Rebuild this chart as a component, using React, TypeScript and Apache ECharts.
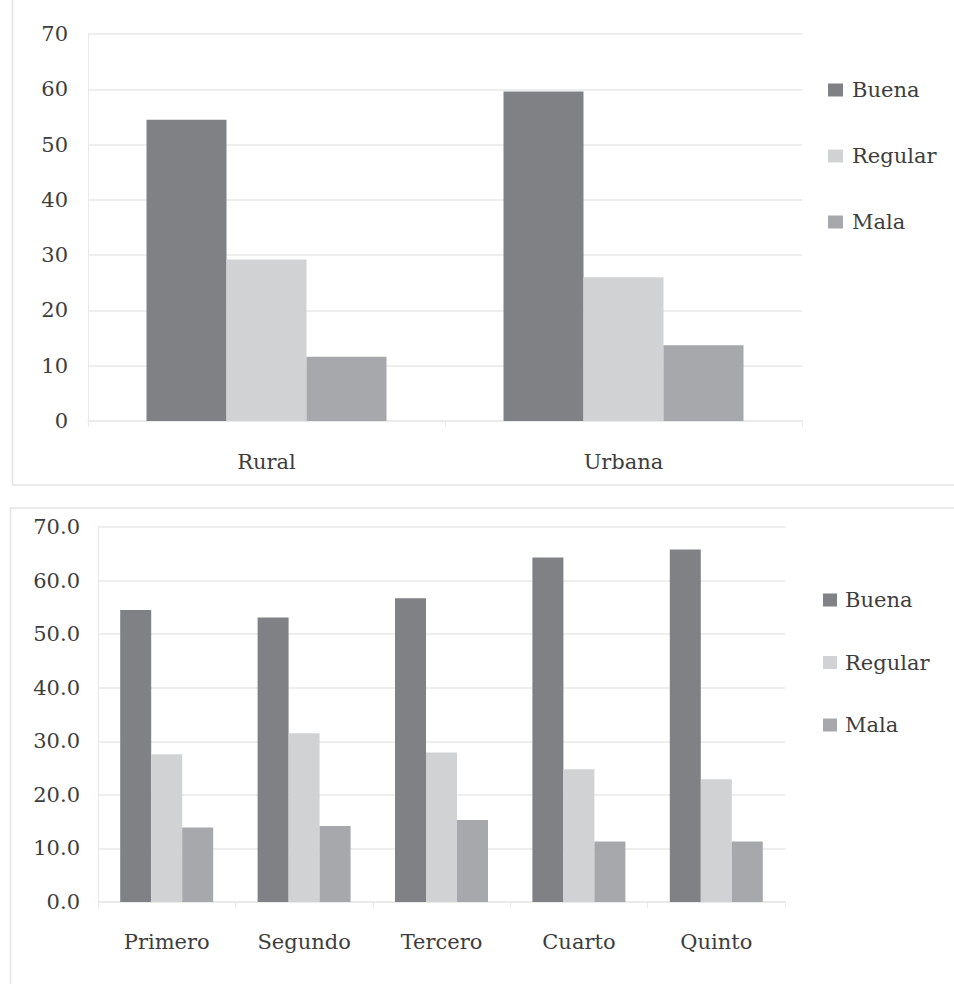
import React, { useEffect, useRef } from "react";
import * as echarts from "echarts";

const seriesNames = ["Buena", "Regular", "Mala"];
const colors = ["#808184", "#d1d2d4", "#a7a8ab"];

const topCategories = ["Rural", "Urbana"];
const topBuena = [54.5, 59.6];
const topRegular = [29.2, 26.0];
const topMala = [11.6, 13.7];
const topTicks = [0, 10, 20, 30, 40, 50, 60, 70];

const bottomCategories = ["Primero", "Segundo", "Tercero", "Cuarto", "Quinto"];
const bottomBuena = [54.5, 53.1, 56.7, 64.3, 65.8];
const bottomRegular = [27.6, 31.5, 27.9, 24.8, 22.9];
const bottomMala = [13.9, 14.2, 15.3, 11.3, 11.3];
const bottomTicks = [0, 10, 20, 30, 40, 50, 60, 70];

const FONT = "DejaVu Serif";
const TEXT = "#3d3d3d";
const GRID = "#e9e9e9";
const FS = 21;

export default function App() {
  const ref = useRef<HTMLDivElement>(null);
  useEffect(() => {
    if (!ref.current) return;
    const chart = echarts.init(ref.current, undefined, { renderer: "svg" });
    const topData = [topBuena, topRegular, topMala];
    const bottomData = [bottomBuena, bottomRegular, bottomMala];
    const yAxisCommon = (gridIndex: number, ticks: number[], fmt: (v: number) => string) => ({
      type: "value",
      gridIndex,
      min: ticks[0],
      max: ticks[ticks.length - 1],
      interval: ticks[1] - ticks[0],
      axisLine: { show: true, lineStyle: { color: GRID, width: 1 } },
      axisTick: { show: false },
      splitLine: { show: true, lineStyle: { color: GRID, width: 1.5 } },
      axisLabel: {
        color: TEXT,
        fontFamily: FONT,
        fontSize: FS,
        margin: gridIndex === 0 ? 20 : 18,
        formatter: (v: number) => fmt(v),
      },
    });
    const xAxisCommon = (gridIndex: number, cats: string[], margin: number) => ({
      type: "category",
      gridIndex,
      data: cats,
      axisLine: { show: true, lineStyle: { color: GRID, width: 1.5 } },
      axisTick: { show: true, length: 6, lineStyle: { color: GRID } },
      axisLabel: { color: TEXT, fontFamily: FONT, fontSize: FS, margin },
    });
    const option: any = {
      animation: false,
      backgroundColor: "#ffffff",
      textStyle: { fontFamily: FONT },
      graphic: [
        {
          type: "rect",
          shape: { x: 12.5, y: -2, width: 960, height: 487 },
          style: { fill: "none", stroke: "#e3e3e3", lineWidth: 1.5 },
          silent: true,
        },
        {
          type: "rect",
          shape: { x: 10.5, y: 508, width: 960, height: 500 },
          style: { fill: "none", stroke: "#e3e3e3", lineWidth: 1.5 },
          silent: true,
        },
      ],
      grid: [
        { left: 88, top: 34, width: 714, height: 387 },
        { left: 98, top: 527, width: 687, height: 375 },
      ],
      legend: [
        {
          orient: "vertical",
          left: 823,
          top: 74.5,
          itemWidth: 15,
          itemHeight: 13,
          itemGap: 45,
          icon: "rect",
          data: seriesNames,
          textStyle: { color: TEXT, fontFamily: FONT, fontSize: FS, padding: [0, 0, 0, 4] },
        },
        {
          orient: "vertical",
          left: 818,
          top: 584.5,
          itemWidth: 14,
          itemHeight: 13,
          itemGap: 41.5,
          icon: "rect",
          data: seriesNames,
          textStyle: { color: TEXT, fontFamily: FONT, fontSize: FS, padding: [0, 0, 0, 3] },
        },
      ],
      xAxis: [xAxisCommon(0, topCategories, 30), xAxisCommon(1, bottomCategories, 29)],
      yAxis: [
        yAxisCommon(0, topTicks, (v) => String(v)),
        yAxisCommon(1, bottomTicks, (v) => v.toFixed(1)),
      ],
      series: [
        ...seriesNames.map((name, i) => ({
          type: "bar",
          name,
          xAxisIndex: 0,
          yAxisIndex: 0,
          data: topData[i],
          barWidth: 80,
          barGap: "0%",
          itemStyle: { color: colors[i] },
        })),
        ...seriesNames.map((name, i) => ({
          type: "bar",
          name,
          xAxisIndex: 1,
          yAxisIndex: 1,
          data: bottomData[i],
          barWidth: 31,
          barGap: "0%",
          itemStyle: { color: colors[i] },
        })),
      ],
    };
    chart.setOption(option);
    return () => chart.dispose();
  }, []);
  return (
    <div
      ref={ref}
      style={{ position: "absolute", left: 0, top: 0, width: 954, height: 984 }}
    />
  );
}
